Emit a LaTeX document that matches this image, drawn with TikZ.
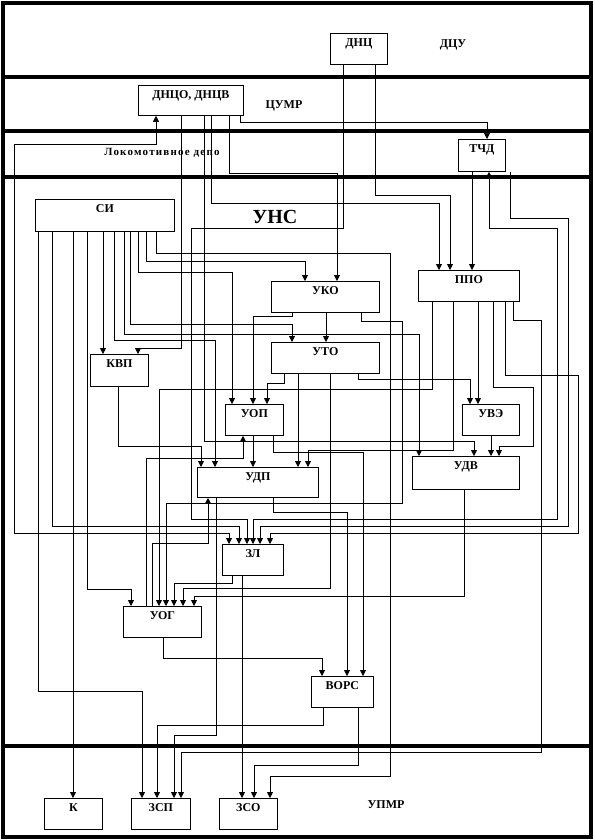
\documentclass[tikz,border=0pt]{standalone}
\usepackage{fontspec}
\setmainfont{Liberation Serif}
\usetikzlibrary{arrows.meta}
\tikzset{
  unitbox/.style={
    draw, line width=0.8pt, anchor=north west, inner sep=0pt,
    text height=13pt, text depth=18pt,
    font=\bfseries\fontsize{12}{12}\selectfont
  },
  zonetext/.style={inner sep=0pt, font=\bfseries\fontsize{12}{12}\selectfont},
  band/.style={line width=3.5pt},
  wire/.style={line width=0.75pt},
  feed/.style={wire, -{Triangle[width=6pt,length=6pt]}},
  feedboth/.style={wire, {Triangle[width=6pt,length=6pt]}-{Triangle[width=6pt,length=6pt]}},
}

\begin{document}
\begin{tikzpicture}[x=1pt, y=-1pt]
  \useasboundingbox (0,0) rectangle (594,840);
  % levels
  \draw[band] (3,3) rectangle (591,837);
  \draw[band] (3,77) -- (591,77);
  \draw[band] (3,131) -- (591,131);
  \draw[band] (3,177) -- (591,177);
  \draw[band] (3,746) -- (591,746);

  \node[zonetext] (dcu) at (453,45) {ДЦУ};
  \node[zonetext] (cumr) at (284,106) {ЦУМР};
  \node[zonetext, font=\bfseries\fontsize{11}{11}\selectfont\addfontfeatures{LetterSpace=11}] (depot) at (162,153) {Локомотивное депо};
  \node[zonetext, font=\bfseries\fontsize{20}{20}\selectfont] (uns) at (275,217) {УНС};
  \node[zonetext] (upmr) at (386,805) {УПМР};

  % units
  \node[unitbox, minimum width=57pt] (dnc) at (330,33) {ДНЦ};
  \node[unitbox, minimum width=105pt, text depth=17pt] (ndo) at (138,85) {ДНЦО, ДНЦВ};
  \node[unitbox, minimum width=47pt, text depth=19pt] (tchd) at (458,139) {ТЧД};
  \node[unitbox, minimum width=139pt, text depth=19pt] (si) at (35,199) {СИ};
  \node[unitbox, minimum width=108pt] (uko) at (271,281) {УКО};
  \node[unitbox, minimum width=101pt] (ppo) at (418,270) {ППО};
  \node[unitbox, minimum width=108pt] (uto) at (271,342) {УТО};
  \node[unitbox, minimum width=58pt, text depth=19pt] (kvp) at (90,354) {КВП};
  \node[unitbox, minimum width=58pt] (uop) at (225,404) {УОП};
  \node[unitbox, minimum width=57pt] (uve) at (462,404) {УВЭ};
  \node[unitbox, minimum width=107pt, text depth=20pt] (udv) at (412,456) {УДВ};
  \node[unitbox, minimum width=121pt, text depth=17pt] (udp) at (197,467) {УДП};
  \node[unitbox, minimum width=61pt] (zl) at (222,544) {ЗЛ};
  \node[unitbox, minimum width=78pt] (uog) at (123,606) {УОГ};
  \node[unitbox, minimum width=62pt] (vors) at (311,676) {ВОРС};
  \node[unitbox, minimum width=58pt] (k) at (44,798) {К};
  \node[unitbox, minimum width=59pt] (zsp) at (131,798) {ЗСП};
  \node[unitbox, minimum width=58pt] (zso) at (219,798) {ЗСО};

  % from ДНЦО, ДНЦВ and ДНЦ
  \draw[feed] ([xshift=43pt]ndo.south west) |- (138,348) -- ([xshift=48pt]kvp.north west);
  \draw[feed] ([xshift=66pt]ndo.south west) |- (474,441) -- ([xshift=62pt]udv.north west);
  \draw[feed] ([xshift=73pt]ndo.south west) |- (439,203) -- ([xshift=21pt]ppo.north west);
  \draw[feed] ([xshift=91pt]ndo.south west) |- (337,173) -- ([xshift=66pt]uko.north west);
  \draw[feed] ([xshift=102pt]ndo.south west) |- (487,122) -- ([xshift=29pt]tchd.north west);
  \draw[feedboth] ([xshift=18pt]ndo.south west) |- (14,144) |- (229,533) -- ([xshift=7pt]zl.north west);
  \draw[feed] ([xshift=45pt]dnc.south west) |- (450,195) -- ([xshift=32pt]ppo.north west);
  \draw[feed] ([xshift=13pt]dnc.south west) |- (191,228) |- (247,519) -- ([xshift=25pt]zl.north west);

  % from ТЧД
  \draw[feed] ([xshift=14pt]tchd.south west) -- ([xshift=54pt]ppo.north west);
  \draw[feedboth] ([xshift=31pt]tchd.south west) |- (557,228) |- (253,519) -- ([xshift=31pt]zl.north west);
  \draw[feed] ([xshift=52pt]tchd.south west) |- (568,218) |- (260,526) -- ([xshift=38pt]zl.north west);

  % from СИ
  \draw[feed] ([xshift=3pt]si.south west) |- (142,691) -- ([xshift=11pt]zsp.north west);
  \draw[feed] ([xshift=17pt]si.south west) |- (239,526) -- ([xshift=17pt]zl.north west);
  \draw[feed] ([xshift=38pt]si.south west) -- ([xshift=29pt]k.north west);
  \draw[feed] ([xshift=52pt]si.south west) |- (131,589) -- ([xshift=8pt]uog.north west);
  \draw[feed] ([xshift=68pt]si.south west) -- ([xshift=13pt]kvp.north west);
  \draw[feed] ([xshift=79pt]si.south west) |- (215,340) -- ([xshift=18pt]udp.north west);
  \draw[feed] ([xshift=89pt]si.south west) |- (419,334) -- ([xshift=7pt]udv.north west);
  \draw[feed] ([xshift=95pt]si.south west) |- (292,324) -- ([xshift=21pt]uto.north west);
  \draw[feed] ([xshift=103pt]si.south west) |- (232,272) -- ([xshift=7pt]uop.north west);
  \draw[feed] ([xshift=111pt]si.south west) |- (305,261) -- ([xshift=34pt]uko.north west);
  \draw[feed] ([xshift=121pt]si.south west) |- (390,253) |- (270,776) -- ([xshift=51pt]zso.north west);

  % from УКО and УТО
  \draw[feed] ([xshift=21pt]uko.south west) |- (253,316) -- ([xshift=28pt]uop.north west);
  \draw[feed] ([xshift=55pt]uko.south west) -- ([xshift=55pt]uto.north west);
  \draw[feed] ([xshift=90pt]uko.south west) |- (402,321) |- (166,503) -- ([xshift=43pt]uog.north west);
  \draw[feed] ([xshift=13pt]uto.south west) |- (267,383) -- ([xshift=42pt]uop.north west);
  \draw[feed] ([xshift=27pt]uto.south west) -- ([xshift=101pt]udp.north west);
  \draw[feed] ([xshift=59pt]uto.south west) |- (183,588) -- ([xshift=60pt]uog.north west);
  \draw[feed] ([xshift=87pt]uto.south west) |- (470,379) -- ([xshift=8pt]uve.north west);

  % from ППО
  \draw[feed] ([xshift=14pt]ppo.south west) |- (159,389) -- ([xshift=36pt]uog.north west);
  \draw[feed] ([xshift=35pt]ppo.south west) |- (308,450) -- ([xshift=111pt]udp.north west);
  \draw[feed] ([xshift=60pt]ppo.south west) -- ([xshift=16pt]uve.north west);
  \draw[feed] ([xshift=75pt]ppo.south west) |- (533,387) |- (499,446) -- ([xshift=87pt]udv.north west);
  \draw[feed] ([xshift=87pt]ppo.south west) |- (578,375) |- (270,533) -- ([xshift=48pt]zl.north west);
  \draw[feed] ([xshift=95pt]ppo.south west) |- (541,320) |- (181,752) -- ([xshift=50pt]zsp.north west);

  % middle units
  \draw[feed] ([xshift=28pt]kvp.south west) |- (201,446) -- ([xshift=4pt]udp.north west);
  \draw[feed] ([xshift=28pt]uop.south west) -- ([xshift=56pt]udp.north west);
  \draw[feed] ([xshift=48pt]uop.south west) |- (363,452) -- ([xshift=52pt]vors.north west);
  \draw[feed] ([xshift=23pt]uog.north west) |- (243,458) -- ([xshift=18pt]uop.south west);
  \draw[feed] ([xshift=29pt]uve.south west) -- ([xshift=79pt]udv.north west);
  \draw[feed] ([xshift=52pt]udv.south west) |- (194,596) -- ([xshift=71pt]uog.north west);
  \draw[feed] ([xshift=19pt]udp.south west) |- (174,735) -- ([xshift=43pt]zsp.north west);
  \draw[feed] ([xshift=76pt]udp.south west) |- (347,512) -- ([xshift=36pt]vors.north west);
  \draw[feed] ([xshift=29pt]uog.north west) |- (208,543) -- ([xshift=11pt]udp.south west);
  \draw[feed] ([xshift=10pt]zl.south west) |- (174,583) -- ([xshift=51pt]uog.north west);
  \draw[feed] ([xshift=20pt]zl.south west) -- ([xshift=23pt]zso.north west);

  % to УПМР
  \draw[feed] ([xshift=40pt]uog.south west) |- (322,658) -- ([xshift=11pt]vors.north west);
  \draw[feed] ([xshift=12pt]vors.south west) |- (157,725) -- ([xshift=26pt]zsp.north west);
  \draw[feed] ([xshift=47pt]vors.south west) |- (254,765) -- ([xshift=35pt]zso.north west);
\end{tikzpicture}
\end{document}
